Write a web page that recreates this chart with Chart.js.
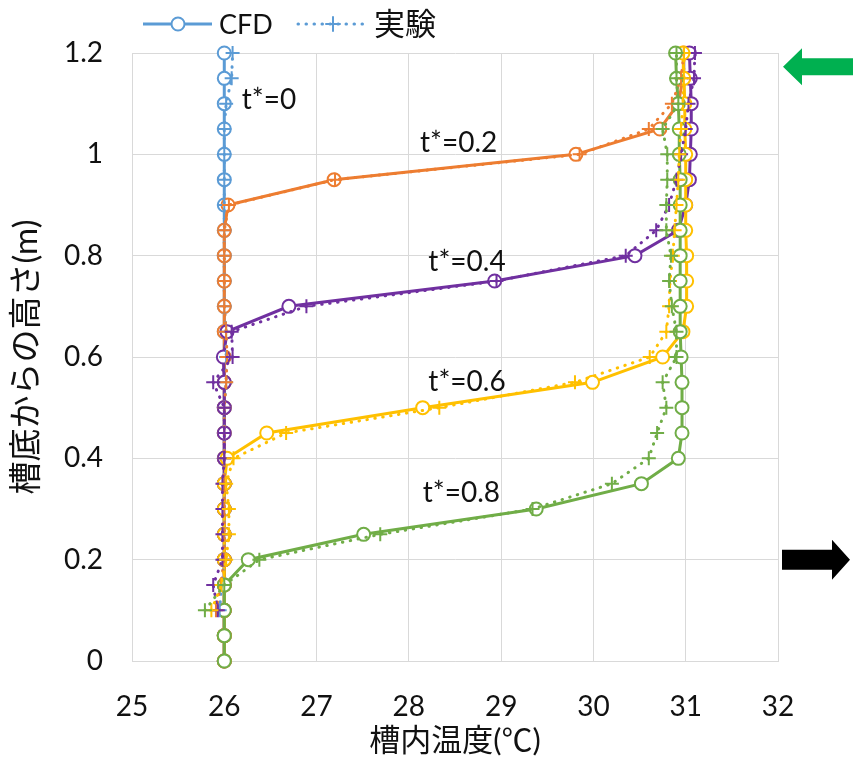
<!doctype html>
<html>
<head>
<meta charset="utf-8">
<title>槽内温度分布</title>
<script src="https://cdn.jsdelivr.net/npm/chart.js"></script>
<style>
  body { margin: 0; background: #fff; }
</style>
</head>
<body>
<canvas id="grafico" width="853" height="762"></canvas>
<script>
// alturas (m)
const heightsCFD = [0, 0.05, 0.1, 0.15, 0.2, 0.25, 0.3, 0.35, 0.4, 0.45, 0.5, 0.55, 0.6,
                    0.65, 0.7, 0.75, 0.8, 0.85, 0.9, 0.95, 1.0, 1.05, 1.1, 1.15, 1.2];
const heightsExp = [0.1, 0.15, 0.2, 0.25, 0.3, 0.35, 0.4, 0.45, 0.5, 0.55, 0.6,
                    0.65, 0.7, 0.75, 0.8, 0.85, 0.9, 0.95, 1.0, 1.05, 1.1, 1.15, 1.2];

// CFD temperatures (°C)
const cfdT00 = [26.0, 26.0, 26.0, 26.0, 26.0, 26.0, 26.0, 26.0, 26.0, 26.0, 26.0, 26.0, 26.0,
                26.0, 26.0, 26.0, 26.0, 26.0, 26.0, 26.0, 26.0, 26.0, 26.0, 26.0, 26.0];
const cfdT02 = [26.0, 26.0, 26.0, 26.0, 26.0, 26.0, 26.0, 26.0, 26.0, 26.0, 26.0, 26.0, 26.0,
                26.0, 26.0, 26.0, 26.0, 26.0, 26.04, 27.19, 29.81, 30.72, 30.92, 30.97, 30.98];
const cfdT04 = [26.0, 26.0, 26.0, 26.0, 26.0, 26.0, 26.0, 26.0, 26.0, 26.0, 26.0, 26.0, 25.99,
                26.03, 26.7, 28.93, 30.45, 30.92, 31.0, 31.04, 31.05, 31.06, 31.06, 31.05, 31.04];
const cfdT06 = [26.0, 26.0, 26.0, 26.0, 26.0, 26.0, 26.0, 26.0, 26.03, 26.46, 28.15, 29.99, 30.75,
                30.97, 31.01, 31.01, 31.01, 31.0, 31.0, 31.0, 31.0, 30.99, 30.99, 30.98, 30.97];
const cfdT08 = [26.0, 26.0, 26.0, 26.0, 26.26, 27.51, 29.38, 30.52, 30.92, 30.96, 30.96, 30.96, 30.95,
                30.94, 30.94, 30.94, 30.94, 30.94, 30.94, 30.94, 30.93, 30.93, 30.92, 30.9, 30.89];

// experiment temperatures (°C)
const expT00 = [25.95, 25.97, 26.0, 26.0, 26.0, 26.0, 26.0, 26.0, 26.0, 26.02, 26.02,
                26.02, 26.0, 26.0, 26.0, 26.0, 26.0, 26.0, 26.0, 26.0, 26.02, 26.08, 26.09];
const expT02 = [25.91, 25.96, 26.0, 26.0, 26.0, 26.0, 26.0, 26.0, 26.0, 26.02, 26.03,
                26.02, 26.0, 26.0, 26.0, 26.0, 26.05, 27.2, 29.85, 30.6, 30.85, 30.95, 30.98];
const expT04 = [25.93, 25.88, 25.98, 25.98, 25.98, 25.98, 26.0, 26.0, 26.0, 25.88, 26.09,
                26.08, 26.89, 28.95, 30.35, 30.68, 30.82, 30.9, 30.95, 31.0, 31.03, 31.09, 31.1];
const expT06 = [25.86, 25.97, 26.02, 26.05, 26.05, 26.02, 26.1, 26.67, 28.33, 29.8, 30.61,
                30.79, 30.82, 30.83, 30.86, 30.88, 30.9, 30.92, 30.93, 30.95, 30.97, 30.98, 30.98];
const expT08 = [25.79, 26.0, 26.38, 27.69, 29.34, 30.2, 30.6, 30.69, 30.79, 30.75, 30.9,
                30.9, 30.85, 30.82, 30.84, 30.79, 30.79, 30.8, 30.8, 30.75, 30.92, 30.9, 30.9];

const seriesColors = ['#5B9BD5', '#ED7D31', '#7030A0', '#FFC000', '#70AD47'];
const timeLabels = ['t*=0', 't*=0.2', 't*=0.4', 't*=0.6', 't*=0.8'];
// label anchor (temperature, height) for each t* text
const labelTemps = [26.19, 28.54, 28.63, 28.63, 28.57];
const labelHeights = [1.107, 1.022, 0.788, 0.551, 0.331];

const xTickLabels = ['25', '26', '27', '28', '29', '30', '31', '32'];
const yTickLabels = ['0', '0.2', '0.4', '0.6', '0.8', '1', '1.2'];
const legendLabels = ['CFD', '実験'];

const FONT = "Lato, 'Noto Sans CJK JP', sans-serif";
const TEXT = '#111';
const GRID = '#d9d9d9';

function pontos(temps, heights) {
    return temps.map((t, i) => ({ x: t, y: heights[i] }));
}

const cfdSeries = [cfdT00, cfdT02, cfdT04, cfdT06, cfdT08];
const expSeries = [expT00, expT02, expT04, expT06, expT08];

const datasets = [];
cfdSeries.forEach((temps, i) => {
    datasets.push({
        label: 'CFD ' + timeLabels[i],
        data: pontos(temps, heightsCFD),
        showLine: true,
        borderColor: seriesColors[i],
        borderWidth: 3,
        pointStyle: 'circle',
        pointRadius: 6.5,
        pointBorderWidth: 2,
        pointBackgroundColor: '#fff',
        pointBorderColor: seriesColors[i],
        clip: false
    });
});
expSeries.forEach((temps, i) => {
    datasets.push({
        label: '実験 ' + timeLabels[i],
        data: pontos(temps, heightsExp),
        showLine: true,
        borderColor: seriesColors[i],
        borderWidth: 3,
        borderDash: [0.5, 7.5],
        borderCapStyle: 'round',
        pointStyle: 'cross',
        pointRadius: 7,
        pointBorderWidth: 2,
        pointBorderColor: seriesColors[i],
        clip: false
    });
});
// later series on top, like the spreadsheet
datasets.forEach((d, i) => { d.order = datasets.length - i; });

const extras = {
    id: 'extras',
    afterDatasetsDraw(chart) {
        const ctx = chart.ctx;
        const sx = chart.scales.x, sy = chart.scales.y;
        ctx.save();
        ctx.font = '28px ' + FONT;
        ctx.fillStyle = TEXT;
        ctx.textBaseline = 'middle';
        timeLabels.forEach((txt, i) => {
            ctx.textAlign = i === 0 ? 'left' : 'center';
            ctx.fillText(txt, sx.getPixelForValue(labelTemps[i]), sy.getPixelForValue(labelHeights[i]));
        });
        ctx.restore();
    },
    afterDraw(chart) {
        const ctx = chart.ctx;
        const area = chart.chartArea;
        const sy = chart.scales.y;
        ctx.save();

        // legend
        const ly = 24;
        const items = [
            { x0: 143, color: seriesColors[0], dash: [], marker: 'circle', size: 27 },
            { x0: 298, color: seriesColors[0], dash: [0.5, 7.5], marker: 'cross', size: 31 }
        ];
        items.forEach((it, i) => {
            ctx.strokeStyle = it.color;
            ctx.lineWidth = 3;
            ctx.lineCap = it.dash.length ? 'round' : 'butt';
            ctx.setLineDash(it.dash);
            ctx.beginPath();
            ctx.moveTo(it.x0, ly);
            ctx.lineTo(it.x0 + 69, ly);
            ctx.stroke();
            ctx.setLineDash([]);
            ctx.lineWidth = 2;
            const cx = it.x0 + 35;
            if (it.marker === 'circle') {
                ctx.fillStyle = '#fff';
                ctx.beginPath();
                ctx.arc(cx, ly, 6.5, 0, Math.PI * 2);
                ctx.fill();
                ctx.stroke();
            } else {
                ctx.beginPath();
                ctx.moveTo(cx - 7, ly); ctx.lineTo(cx + 7, ly);
                ctx.moveTo(cx, ly - 7); ctx.lineTo(cx, ly + 7);
                ctx.stroke();
            }
            ctx.font = it.size + 'px ' + FONT;
            ctx.fillStyle = TEXT;
            ctx.textAlign = 'left';
            ctx.textBaseline = 'middle';
            ctx.fillText(legendLabels[i], it.x0 + 76, ly + 1);
        });

        // arrows at the right side
        const r = area.right;
        const gy = sy.getPixelForValue(1.173);
        ctx.fillStyle = '#00B050';
        ctx.beginPath();
        ctx.moveTo(r + 5, gy);
        ctx.lineTo(r + 24, gy - 18.5);
        ctx.lineTo(r + 24, gy - 8.5);
        ctx.lineTo(r + 75, gy - 8.5);
        ctx.lineTo(r + 75, gy + 8.5);
        ctx.lineTo(r + 24, gy + 8.5);
        ctx.lineTo(r + 24, gy + 18.5);
        ctx.closePath();
        ctx.fill();

        const by = sy.getPixelForValue(0.2);
        ctx.fillStyle = '#000';
        ctx.beginPath();
        ctx.moveTo(r + 4, by - 10);
        ctx.lineTo(r + 54, by - 10);
        ctx.lineTo(r + 54, by - 20);
        ctx.lineTo(r + 72, by);
        ctx.lineTo(r + 54, by + 20);
        ctx.lineTo(r + 54, by + 10);
        ctx.lineTo(r + 4, by + 10);
        ctx.closePath();
        ctx.fill();
        ctx.restore();
    }
};

new Chart(document.getElementById('grafico').getContext('2d'), {
    type: 'scatter',
    data: { datasets: datasets },
    options: {
        responsive: false,
        animation: false,
        devicePixelRatio: 1,
        layout: { padding: { top: 53, right: 75, left: 0, bottom: 0 } },
        elements: { line: { tension: 0 } },
        plugins: {
            legend: { display: false },
            tooltip: { enabled: false }
        },
        scales: {
            x: {
                type: 'linear',
                min: 25,
                max: 32,
                afterFit: (s) => { s.height = 101; },
                afterBuildTicks: (s) => { s.ticks = xTickLabels.map(v => ({ value: Number(v) })); },
                ticks: {
                    callback: (v, i) => xTickLabels[i],
                    font: { family: FONT, size: 28 },
                    color: TEXT,
                    padding: 29,
                    maxRotation: 0
                },
                grid: { color: GRID, drawTicks: false },
                border: { color: GRID },
                title: {
                    display: true,
                    text: '槽内温度(℃)',
                    font: { family: FONT, size: 31 },
                    color: TEXT,
                    padding: { top: 0, bottom: 2 }
                }
            },
            y: {
                type: 'linear',
                min: 0,
                max: 1.2,
                afterFit: (s) => { s.width = 132; },
                afterBuildTicks: (s) => { s.ticks = yTickLabels.map(v => ({ value: Number(v) })); },
                ticks: {
                    callback: (v, i) => yTickLabels[i],
                    font: { family: FONT, size: 28 },
                    color: TEXT,
                    padding: 29
                },
                grid: { color: GRID, drawTicks: false },
                border: { color: GRID },
                title: {
                    display: true,
                    text: '槽底からの高さ(m)',
                    font: { family: FONT, size: 33 },
                    color: TEXT,
                    padding: { top: 7, bottom: 0 }
                }
            }
        }
    },
    plugins: [extras]
});
</script>
</body>
</html>
